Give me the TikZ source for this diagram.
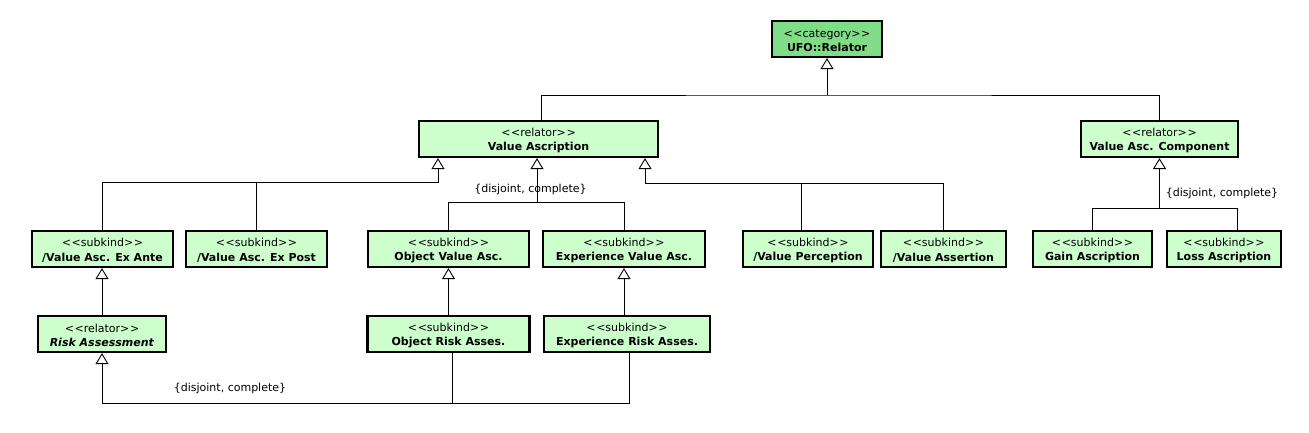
\documentclass[tikz,border=0pt]{standalone}
\usepackage{fontspec}
\setmainfont{DejaVu Sans}
\usetikzlibrary{arrows.meta}
\definecolor{lightg}{RGB}{204,255,204}
\definecolor{darkg}{RGB}{128,220,134}
\newcommand{\stereo}[1]{\rule{0pt}{11pt}<\kern0.6pt<#1>\kern0.6pt>}
\begin{document}
\begin{tikzpicture}[x=1pt,y=-1pt,
  cls/.style={draw, line width=2.2pt, fill=lightg, align=center, inner sep=0pt,
    font=\fontsize{11}{14.5}\selectfont, minimum height=36pt},
  conn/.style={line width=0.9pt},
  gen/.style={conn, -{Triangle[open,width=13pt,length=11pt,fill=white]}},
  lbl/.style={font=\fontsize{11}{13}\selectfont, inner sep=0pt}]
\useasboundingbox (0,0) rectangle (1309,432);
% classes
\node[cls, fill=darkg, minimum width=110pt] (rel) at (827,39) {\stereo{category}\\\textbf{UFO::Relator}};
\node[cls, minimum width=239pt] (va) at (538.5,139) {\stereo{relator}\\\textbf{Value Ascription}};
\node[cls, minimum width=157pt] (vac) at (1159.5,139) {\stereo{relator}\\\textbf{Value Asc. Component}};
\node[cls, minimum width=141pt] (exante) at (102.5,249) {\stereo{subkind}\\\textbf{/Value Asc. Ex Ante}};
\node[cls, minimum width=141pt] (expost) at (256.5,249) {\stereo{subkind}\\\textbf{/Value Asc. Ex Post}};
\node[cls, minimum width=161pt] (ova) at (448.5,249) {\stereo{subkind}\\\textbf{Object Value Asc.}};
\node[cls, minimum width=162pt] (eva) at (624,249) {\stereo{subkind}\\\textbf{Experience Value Asc.}};
\node[cls, minimum width=130pt] (vp) at (808,249) {\stereo{subkind}\\\textbf{/Value Perception}};
\node[cls, minimum width=125pt] (vas) at (943.5,249) {\stereo{subkind}\\\textbf{/Value Assertion}};
\node[cls, minimum width=119pt] (gain) at (1092.5,249) {\stereo{subkind}\\\textbf{Gain Ascription}};
\node[cls, minimum width=114pt] (loss) at (1224,249) {\stereo{subkind}\\\textbf{Loss Ascription}};
\node[cls, minimum width=128pt] (risk) at (102,334) {\stereo{relator}\\\textbf{\textit{Risk Assessment}}};
\node[cls, minimum width=162pt] (ora) at (448.5,334) {\stereo{subkind}\\\textbf{Object Risk Asses.}};
\node[cls, minimum width=166pt] (era) at (627,334) {\stereo{subkind}\\\textbf{Experience Risk Asses.}};
% junctions
\coordinate (j1) at (827,95);
\coordinate (j2) at (438,182);
\coordinate (j3) at (537,202);
\coordinate (j4) at (645,183);
\coordinate (j5) at (1159.5,208);
\coordinate (j6) at (102,403);
% UFO::Relator
\draw[gen] (j1) -- (rel.south);
\draw[conn] ([xshift=2.5pt]va.north) |- (j1) -| (vac.north);
% Value Ascription left
\draw[gen] (exante.north) |- (j2) -- (j2 |- va.south);
\draw[conn] (expost.north) |- (j2);
% Value Ascription middle
\draw[gen] (ova.north) |- (j3) -- (j3 |- va.south);
\draw[conn] (eva.north) |- (j3);
\node[lbl] (l1) at (530.5,189) {\{disjoint, complete\}};
% Value Ascription right
\draw[gen] (vas.north) |- (j4) -- (j4 |- va.south);
\draw[conn] ([xshift=-7pt]vp.north) |- (j4);
% Value Asc. Component
\draw[gen] (gain.north) |- (j5) -- (vac.south);
\draw[conn] ([xshift=13pt]loss.north) |- (j5);
\node[lbl] (l2) at (1222,193) {\{disjoint, complete\}};
% second level
\draw[gen] (risk.north) -- (risk.north |- exante.south);
\draw[gen] (ora.north) -- (ora.north |- ova.south);
\draw[gen] (eva.south |- era.north) -- (eva.south);
% bottom
\draw[gen] (j6) -- (risk.south);
\draw[conn] ([xshift=3.5pt]ora.south) |- (j6);
\draw[conn] ([xshift=2pt]era.south) |- (j6);
\node[lbl] (l3) at (230,388) {\{disjoint, complete\}};
\end{tikzpicture}
\end{document}
